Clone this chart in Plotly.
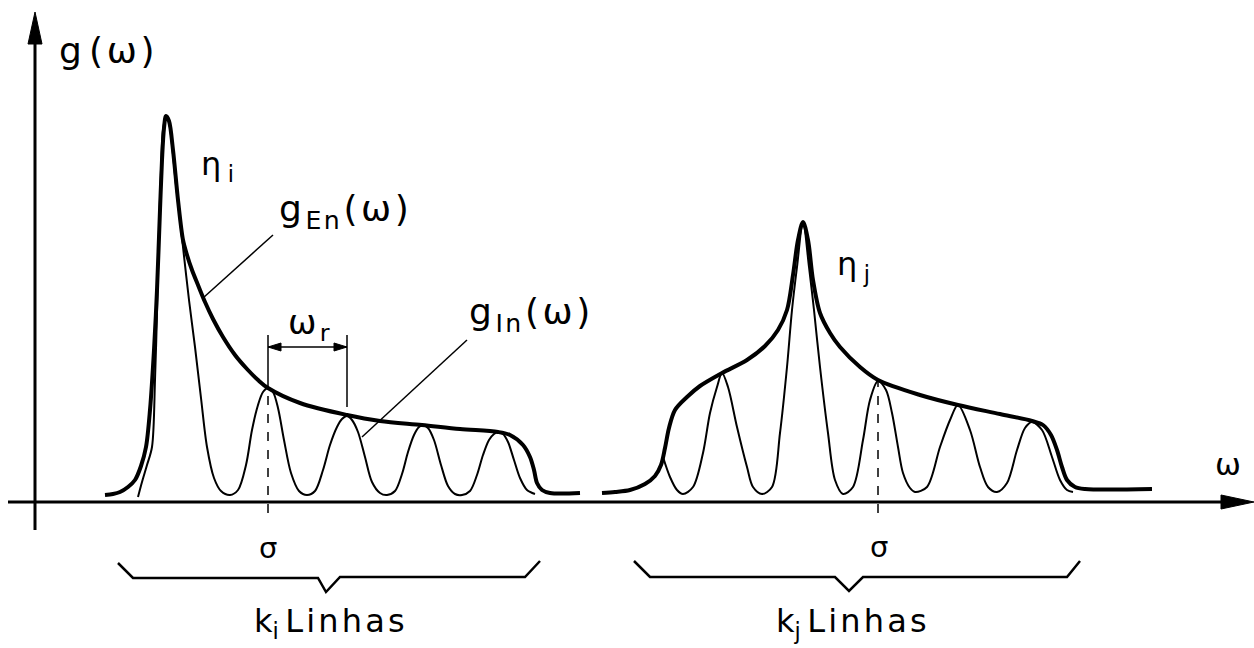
import plotly.graph_objects as go

# ---- data (arbitrary units: omega along x, g(omega) along y) ----
left_In_x = [103,107,112,117,120,122,124,126,128,131,134,137,141,145,148,154,160,166,172,179,186,195,
             203,211,217,223,228,233,238,243,249,256,264,272,280,288,295,302,307,312,317,323,330,337,345,352,
             360,367,373,379,384,388,393,399,406,413,420,427,435,442,448,454,459,463,468,473,479,485,492,500]
left_In_y = [5,20,37,55,122,189,272,332,372,386,380,357,317,282,255,202,155,104,55,24,11,7,
             12,37,72,97,110,114,110,94,62,29,11,7,11,32,57,75,83,86,82,70,45,20,9,7,
             11,28,50,67,75,77,74,62,37,16,8,7,11,27,47,62,68,70,68,60,42,24,12,8]

left_En_x = [70,78,85,93,100,106,111,115,119,122,125,127,129,131,134,138,143,148,152,157,163,170,178,188,
             200,212,223,233,265,312,345,387,425,463,475,488,495,499,502,507,515,545]
left_En_y = [7,8,10,15,22,36,55,92,152,212,292,342,374,386,381,352,302,262,247,232,217,200,183,165,
             147,133,122,114,99,87,81,77,73,70,67,57,45,32,19,12,9,9]

right_In_x = [628,635,642,648,658,668,675,682,687,693,702,712,718,727,737,745,752,757,762,768,774,779,785,
              793,800,808,818,828,835,843,851,857,863,868,875,880,892,905,915,923,935,945,953,962,972,982,
              990,997,1007,1017,1025,1032,1038]
right_In_y = [45,25,12,8,15,49,89,115,129,115,75,35,15,8,15,69,135,192,235,280,235,192,135,
              69,22,8,15,62,102,121,112,89,55,29,14,10,15,55,82,97,72,35,15,10,19,52,
              74,80,72,45,22,12,10]

right_En_x = [567,580,595,610,620,626,630,634,640,652,665,687,712,730,743,752,758,763,768,773,778,785,
              795,805,825,843,885,923,965,997,1008,1016,1022,1027,1032,1040,1050,1117]
right_En_y = [9,10,12,18,26,37,54,74,92,105,116,129,142,156,172,192,227,262,280,262,222,189,
              169,155,135,122,107,97,88,81,77,67,52,35,22,15,13,13]

sigma_positions = [233, 843]          # peak positions marked by sigma
sigma_heights = [114, 121]
omega_r_span = [233, 312]
brace_left_x = [83, 98, 283, 291, 305, 490, 505]
brace_left_y = [-61, -76, -76, -90, -75, -75, -59]
brace_right_x = [599, 615, 800, 814, 828, 1032, 1045]
brace_right_y = [-59, -75, -75, -89, -75, -75, -59]

BLACK = "#000000"
FONT = "DejaVu Sans"
T = "\u200a"  # hair space for the wide technical lettering

fig = go.Figure()

def curve(x, y, w):
    fig.add_trace(go.Scatter(x=x, y=y, mode="lines",
                             line=dict(color=BLACK, width=w, shape="spline", smoothing=0.9),
                             hoverinfo="skip", showlegend=False))

curve(left_In_x, left_In_y, 2)
curve(right_In_x, right_In_y, 2)
curve(left_En_x, left_En_y, 4)
curve(right_En_x, right_En_y, 4)

# braces
for bx, by in [(brace_left_x, brace_left_y), (brace_right_x, brace_right_y)]:
    fig.add_trace(go.Scatter(x=bx, y=by, mode="lines", line=dict(color=BLACK, width=2.5),
                             hoverinfo="skip", showlegend=False))

shapes = []
# axes
shapes.append(dict(type="line", x0=0, y0=-28, x1=0, y1=462, line=dict(color=BLACK, width=3)))
shapes.append(dict(type="path", path="M -7 458 L 7 458 L 0 490 Z", fillcolor=BLACK, line=dict(color=BLACK, width=1)))
shapes.append(dict(type="line", x0=-27, y0=0, x1=1190, y1=0, line=dict(color=BLACK, width=3)))
shapes.append(dict(type="path", path="M 1186 -7 L 1186 7 L 1219 0 Z", fillcolor=BLACK, line=dict(color=BLACK, width=1)))

# sigma dashed markers
for sx, sh in zip(sigma_positions, sigma_heights):
    shapes.append(dict(type="line", x0=sx, y0=-11, x1=sx, y1=sh, line=dict(color=BLACK, width=1.5, dash="dash")))
# omega_r dimension
a0, a1 = omega_r_span
shapes.append(dict(type="line", x0=a0, y0=sigma_heights[0], x1=a0, y1=167, line=dict(color=BLACK, width=1.5)))
shapes.append(dict(type="line", x0=a1, y0=95, x1=a1, y1=167, line=dict(color=BLACK, width=1.5)))
shapes.append(dict(type="line", x0=a0, y0=155, x1=a1, y1=155, line=dict(color=BLACK, width=1.5)))
shapes.append(dict(type="path", path=f"M {a0} 155 L {a0+13} 159 L {a0+13} 151 Z", fillcolor=BLACK, line=dict(color=BLACK, width=1)))
shapes.append(dict(type="path", path=f"M {a1} 155 L {a1-13} 159 L {a1-13} 151 Z", fillcolor=BLACK, line=dict(color=BLACK, width=1)))
# leader lines
shapes.append(dict(type="line", x0=238, y0=267, x1=168, y1=204, line=dict(color=BLACK, width=1.5)))
shapes.append(dict(type="line", x0=432, y0=162, x1=327, y1=65, line=dict(color=BLACK, width=1.5)))

ann = []
def txt(x, y, s, size, xanchor="center"):
    ann.append(dict(x=x, y=y, text=s, showarrow=False, xanchor=xanchor, yanchor="middle",
                    font=dict(family=FONT, size=size, color=BLACK)))

txt(22, 452, f"g{T}{T}({T}ω{T})", 36, "left")
txt(182, 336, f"η{T}{T}<sub>i</sub>", 32)
txt(242, 291, f"g{T}<sub>E{T}n</sub>{T}({T}ω{T})", 36, "left")
txt(274, 178, f"ω{T}<sub>r</sub>", 34)
txt(432, 188, f"g{T}<sub>I{T}n</sub>{T}({T}ω{T})", 36, "left")
txt(818, 236, f"η{T}{T}<sub>j</sub>", 32)
txt(233, -46, "σ", 29)
txt(844, -45, "σ", 29)
txt(294, -121, f"k<sub>i</sub>{T}{T}L{T}i{T}n{T}h{T}a{T}s", 32)
txt(816, -121, f"k<sub>j</sub>{T}{T}L{T}i{T}n{T}h{T}a{T}s", 32)
txt(1193, 38, "ω", 31)

fig.update_layout(
    width=1254, height=648, margin=dict(l=0, r=0, t=0, b=0),
    paper_bgcolor="white", plot_bgcolor="white",
    xaxis=dict(range=[-35, 1219], visible=False, fixedrange=True),
    yaxis=dict(range=[-146, 502], visible=False, fixedrange=True),
    shapes=shapes, annotations=ann, showlegend=False,
)

fig.write_html("out.html", config={"displayModeBar": False},
               post_script="document.body.style.margin='0px';")
